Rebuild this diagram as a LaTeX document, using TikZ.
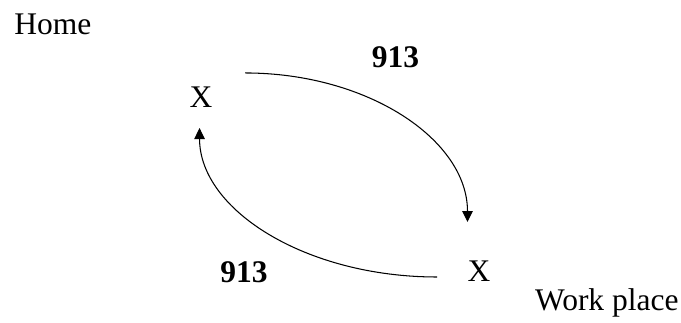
\documentclass[tikz,border=0pt]{standalone}
\usepackage{fontspec}
\setmainfont{Liberation Serif}
\usepackage{tikz}
\usetikzlibrary{arrows.meta}

\tikzset{
  lbl/.style={inner sep=0pt, font=\fontsize{12pt}{14pt}\selectfont},
  flow/.style={line width=0.4pt, -{Triangle[length=4.2pt, width=4pt]}}
}

\begin{document}
\begin{tikzpicture}
  \useasboundingbox (0,0) rectangle (9.119,4.325);

  % Places
  \node[lbl, anchor=base west] (home) at (0.187,3.857) {Home};
  \node[lbl, anchor=base] (homeX) at (2.692,2.892) {X};
  \node[lbl, anchor=base] (workX) at (6.414,0.549) {X};
  \node[lbl, anchor=base east] (work) at (9.093,0.161) {Work place};

  % Trip counts
  \node[lbl, anchor=base, font=\fontsize{12pt}{14pt}\selectfont\bfseries] (goCount) at (5.296,3.415) {913};
  \node[lbl, anchor=base, font=\fontsize{12pt}{14pt}\selectfont\bfseries] (backCount) at (3.267,0.536) {913};

  % Arc ends
  \coordinate (goStart) at (3.281,3.348);
  \coordinate (goEnd) at (6.260,1.352);
  \coordinate (backStart) at (5.852,0.616);
  \coordinate (backEnd) at (2.672,2.611);

  % Home to work and back
  \draw[flow] (goStart) .. controls (4.928,3.348) and (6.260,2.451) .. (goEnd);
  \draw[flow] (backStart) .. controls (4.098,0.616) and (2.672,1.513) .. (backEnd);
\end{tikzpicture}
\end{document}
